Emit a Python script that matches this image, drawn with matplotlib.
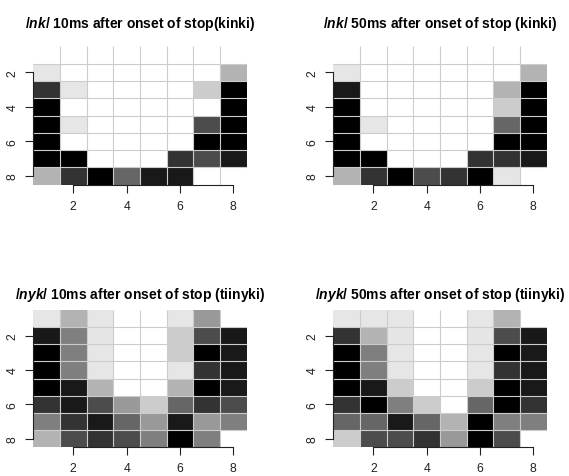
import numpy as np
import matplotlib
matplotlib.use("Agg")
import matplotlib.pyplot as plt

plt.rcParams['font.family'] = ['Liberation Sans', 'DejaVu Sans']
plt.rcParams['mathtext.fontset'] = 'custom'
plt.rcParams['mathtext.it'] = 'Liberation Sans:italic:bold'
plt.rcParams['mathtext.rm'] = 'Liberation Sans:bold'

N = None  # no electrode

# darkness level 0 (white) .. 10 (black), rows 1..8 top to bottom, columns 1..8
nk_10 = [
    [N, N, N, N, N, N, N, N],
    [1, 0, 0, 0, 0, 0, 0, 3],
    [8, 1, 0, 0, 0, 0, 2, 10],
    [10, 0, 0, 0, 0, 0, 0, 10],
    [10, 1, 0, 0, 0, 0, 7, 10],
    [10, 0, 0, 0, 0, 0, 10, 10],
    [10, 10, 0, 0, 0, 8, 7, 9],
    [3, 8, 10, 6, 9, 9, 0, N],
]
nk_50 = [
    [N, N, N, N, N, N, N, N],
    [1, 0, 0, 0, 0, 0, 0, 3],
    [9, 0, 0, 0, 0, 0, 3, 10],
    [10, 0, 0, 0, 0, 0, 2, 10],
    [10, 1, 0, 0, 0, 0, 6, 10],
    [10, 0, 0, 0, 0, 0, 10, 10],
    [10, 10, 0, 0, 0, 8, 8, 9],
    [3, 8, 10, 7, 8, 10, 1, N],
]
nyk_10 = [
    [1, 3, 1, 0, 0, 1, 4, N],
    [9, 5, 1, 0, 0, 2, 7, 9],
    [10, 5, 1, 0, 0, 2, 10, 9],
    [10, 5, 1, 0, 0, 1, 8, 9],
    [10, 9, 3, 0, 0, 3, 10, 9],
    [8, 9, 7, 4, 2, 6, 8, 7],
    [5, 8, 9, 6, 4, 9, 4, 5],
    [3, 7, 8, 7, 5, 10, 5, N],
]
nyk_50 = [
    [1, 1, 1, 0, 0, 1, 3, N],
    [8, 3, 1, 0, 0, 1, 7, 9],
    [10, 5, 1, 0, 0, 1, 10, 9],
    [10, 5, 1, 0, 0, 1, 8, 9],
    [10, 9, 2, 0, 0, 2, 10, 9],
    [8, 10, 5, 2, 0, 6, 10, 8],
    [6, 6, 9, 6, 3, 10, 5, 5],
    [2, 7, 7, 8, 4, 10, 7, N],
]

titles = [
    r"$\mathit{/nk/}$ 10ms after onset of stop(kinki)",
    r"$\mathit{/nk/}$ 50ms after onset of stop (kinki)",
    r"$\mathit{/nyk/}$ 10ms after onset of stop (tiinyki)",
    r"$\mathit{/nyk/}$ 50ms after onset of stop (tiinyki)",
]
ticks = [2, 4, 6, 8]

W, H = 569, 477
fig = plt.figure(figsize=(W / 100, H / 100), dpi=100)

# (left px, top px, right px, bottom px, title baseline y px)
boxes = [
    (33.3, 47.4, 246.7, 185.7, 27.8),
    (333.3, 47.4, 546.7, 185.7, 27.8),
    (33.3, 311.0, 246.7, 448.3, 299.5),
    (333.3, 311.0, 546.7, 448.3, 299.5),
]
datas = [nk_10, nk_50, nyk_10, nyk_50]

edges = np.arange(0.5, 9.0, 1.0)
for data, (l, t, r, b, ty), title in zip(datas, boxes, titles):
    ax = fig.add_axes([l / W, 1 - b / H, (r - l) / W, (b - t) / H])
    arr = np.array([[np.nan if v is None else v for v in row] for row in data], dtype=float)
    ax.pcolormesh(edges, edges, np.ma.masked_invalid(arr), cmap='gray_r',
                  vmin=0, vmax=10, shading='flat', antialiased=False, linewidth=0)
    ax.vlines(np.arange(1.5, 8.0), 0.5, 8.5, color='#cccccc', lw=0.8, zorder=3)
    ax.hlines(np.arange(1.5, 8.0), 0.5, 8.5, color='#cccccc', lw=0.8, zorder=3)
    ax.set_xlim(0.5, 8.5)
    ax.set_ylim(8.5, 0.5)
    ax.set_xticks(ticks)
    ax.set_yticks(ticks)
    ax.set_xticklabels([str(v) for v in ticks])
    ax.set_yticklabels([str(v) for v in ticks], rotation=90, va='center')
    for s in ['top', 'right']:
        ax.spines[s].set_visible(False)
    ax.spines['left'].set_bounds(2, 8)
    ax.spines['bottom'].set_bounds(2, 8)
    for s in ['left', 'bottom']:
        ax.spines[s].set_linewidth(0.8)
        ax.spines[s].set_color('#222222')
        ax.spines[s].set_zorder(4)
    ax.tick_params(direction='out', length=5.8, width=0.8, labelsize=8.8,
                   colors='#222222', pad=5)
    ax.set_facecolor('white')
    fig.text((l + r) / 2 / W, 1 - ty / H, title, ha='center', va='baseline',
             fontsize=10, fontweight='bold')

fig.savefig("out.png", dpi=100)
